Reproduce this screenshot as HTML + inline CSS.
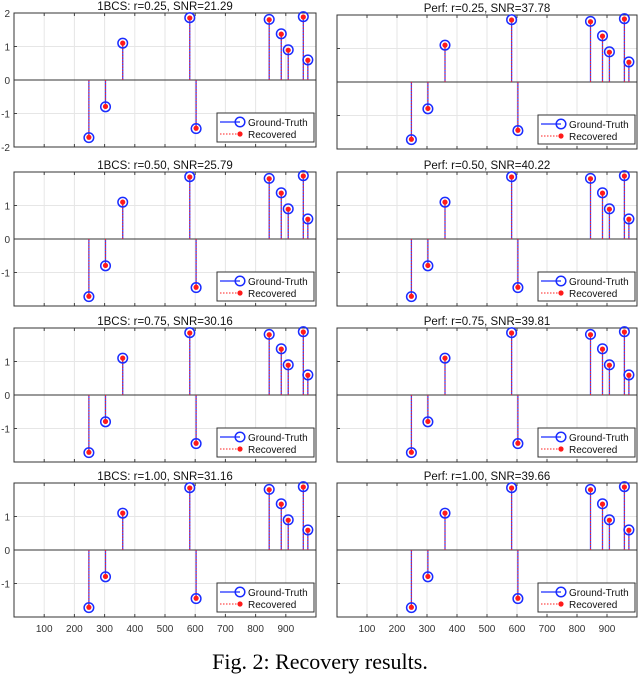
<!DOCTYPE html>
<html><head><meta charset="utf-8">
<style>
html,body{margin:0;padding:0;background:#fff;}
svg{display:block;font-family:"Liberation Sans",sans-serif;}
</style></head>
<body>
<svg id="fig" width="640" height="677" viewBox="0 0 640 677" xmlns="http://www.w3.org/2000/svg">
<text x="320" y="669" text-anchor="middle" font-family="Liberation Serif, serif" font-size="22" fill="#000">Fig. 2: Recovery results.</text>
</svg>
<script>
// data
const positions = [248, 303, 360, 582, 603, 845, 885, 908, 958, 973];
const groundTruth = [-1.72, -0.8, 1.1, 1.86, -1.45, 1.81, 1.38, 0.9, 1.89, 0.6];
const recovered = [-1.71, -0.79, 1.1, 1.85, -1.44, 1.8, 1.37, 0.89, 1.88, 0.59];
const titles = ["1BCS: r=0.25, SNR=21.29","Perf: r=0.25, SNR=37.78","1BCS: r=0.50, SNR=25.79","Perf: r=0.50, SNR=40.22","1BCS: r=0.75, SNR=30.16","Perf: r=0.75, SNR=39.81","1BCS: r=1.00, SNR=31.16","Perf: r=1.00, SNR=39.66"];
const xTicks = [100,200,300,400,500,600,700,800,900];
const yTicks = [-2,-1,0,1,2];

const NS="http://www.w3.org/2000/svg";
const svg=document.getElementById('fig');
function mk(tag,attrs,parent){const e=document.createElementNS(NS,tag);for(const k in attrs)e.setAttribute(k,attrs[k]);(parent||svg).appendChild(e);return e;}

const colLeft=[14,337], colRight=[316,637];
const rowTop=[13,172,328,483], rowTopRight=[15,172,328,483];
const H=134;
for(let i=0;i<8;i++){
  const r=Math.floor(i/2), c=i%2;
  const L=colLeft[c], R=colRight[c], T=c?rowTopRight[r]:rowTop[r], B=T+H;
  const xs=v=>L+(v/1000)*(R-L);
  const ys=v=>T+(2-v)/4*H;
  const g=mk('g',{});
  
  
  mk('rect',{x:L,y:T,width:R-L,height:H,fill:'#fff',stroke:'none'},g);
  xTicks.forEach(t=>{const l=mk('line',{x1:xs(t),x2:xs(t),y1:T,y2:B,stroke:'#e6e6e6','stroke-width':1},g);
    
    mk('line',{x1:xs(t),x2:xs(t),y1:B,y2:B-3,stroke:'#444'},g);mk('line',{x1:xs(t),x2:xs(t),y1:T,y2:T+3,stroke:'#444'},g);});
  yTicks.forEach(t=>{if(t>-2&&t<2){const l=mk('line',{x1:L,x2:R,y1:ys(t),y2:ys(t),stroke:'#e6e6e6'},g);
    }
    mk('line',{x1:L,x2:L+3,y1:ys(t),y2:ys(t),stroke:'#444'},g);
    if(c===0 && (r===0 || Math.abs(t)<2)){const tx=mk('text',{x:L-4,y:ys(t)+4,'text-anchor':'end','font-size':10,fill:'#333'},g);tx.textContent=t;
      }});
  mk('line',{x1:L,x2:R,y1:ys(0),y2:ys(0),stroke:'#333','stroke-width':1},g);
  mk('rect',{x:L,y:T,width:R-L,height:H,fill:'none',stroke:'#333','stroke-width':1},g);
  const tt=mk('text',{x:(L+R)/2,y:T-3,'text-anchor':'middle','font-size':11.5,fill:'#111'},g);tt.textContent=titles[i];
  
  positions.forEach((p,k)=>{
    const st=mk('line',{x1:xs(p),x2:xs(p),y1:ys(0),y2:ys(groundTruth[k]),stroke:'#3344ff','stroke-width':1.3},g);
    
    mk('line',{x1:xs(p),x2:xs(p),y1:ys(0),y2:ys(recovered[k]),stroke:'#ff2020','stroke-width':1,'stroke-dasharray':'1.5,1.5'},g);
    const ci=mk('circle',{cx:xs(p),cy:ys(groundTruth[k]),r:4.8,fill:'none',stroke:'#1a2cff','stroke-width':1.5},g);
    
    const d=mk('circle',{cx:xs(p),cy:ys(recovered[k]),r:2.6,fill:'#ff1a1a'},g);
    
  });
  if(r===3){xTicks.forEach(t=>{const tx=mk('text',{x:xs(t),y:B+15,'text-anchor':'middle','font-size':10,fill:'#333'},g);tx.textContent=t;
    });}
  // legend
  const lg=mk('g',{},g);
  
  const lx=R-99, ly=B-34;
  mk('rect',{x:lx,y:ly,width:97,height:29,fill:'#fff',stroke:'#333','stroke-width':1},lg);
  mk('line',{x1:lx+3,x2:lx+23,y1:ly+9,y2:ly+9,stroke:'#1a2cff','stroke-width':1.3},lg);
  mk('circle',{cx:lx+23,cy:ly+9,r:4.8,fill:'none',stroke:'#1a2cff','stroke-width':1.5},lg);
  const t1=mk('text',{x:lx+31,y:ly+13,'font-size':10,fill:'#111'},lg);t1.textContent='Ground-Truth';
  
  mk('line',{x1:lx+3,x2:lx+23,y1:ly+21,y2:ly+21,stroke:'#ff2020','stroke-width':1,'stroke-dasharray':'1.5,1.5'},lg);
  mk('circle',{cx:lx+23,cy:ly+21,r:2.6,fill:'#ff1a1a'},lg);
  const t2=mk('text',{x:lx+31,y:ly+25,'font-size':10,fill:'#111'},lg);t2.textContent='Recovered';
  
}
</script>
</body></html>
